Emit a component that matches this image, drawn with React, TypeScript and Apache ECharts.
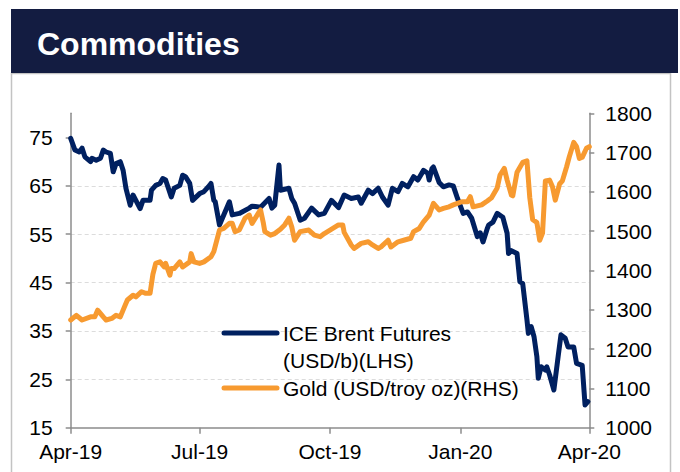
import React, { useEffect, useRef } from 'react';
import * as echarts from 'echarts';

const brentDates = [
  '2019-04-01','2019-04-04','2019-04-07','2019-04-09','2019-04-11','2019-04-15','2019-04-16','2019-04-19','2019-04-22','2019-04-24',
  '2019-04-26','2019-04-29','2019-05-01','2019-05-03','2019-05-06','2019-05-08','2019-05-10','2019-05-13','2019-05-15','2019-05-17',
  '2019-05-20','2019-05-22','2019-05-27','2019-05-28','2019-05-31','2019-06-03','2019-06-05','2019-06-07','2019-06-11','2019-06-13',
  '2019-06-17','2019-06-19','2019-06-21','2019-06-24','2019-06-26','2019-07-01','2019-07-04','2019-07-08','2019-07-09','2019-07-11',
  '2019-07-12','2019-07-15','2019-07-22','2019-07-24','2019-07-29','2019-08-05','2019-08-07','2019-08-13','2019-08-19','2019-08-21',
  '2019-08-23','2019-08-26','2019-08-27','2019-09-02','2019-09-04','2019-09-06','2019-09-10','2019-09-13','2019-09-18','2019-09-23',
  '2019-09-27','2019-10-02','2019-10-07','2019-10-11','2019-10-16','2019-10-21','2019-10-23','2019-10-28','2019-10-31','2019-11-04',
  '2019-11-07','2019-11-11','2019-11-14','2019-11-18','2019-11-21','2019-11-25','2019-11-29','2019-12-02','2019-12-06','2019-12-09',
  '2019-12-10','2019-12-12','2019-12-13','2019-12-17','2019-12-20','2019-12-24','2019-12-27','2019-12-30','2020-01-03','2020-01-06',
  '2020-01-09','2020-01-13','2020-01-15','2020-01-17','2020-01-20','2020-01-21','2020-01-24','2020-01-27','2020-01-31','2020-02-03',
  '2020-02-04','2020-02-06','2020-02-10','2020-02-12','2020-02-14','2020-02-17','2020-02-18','2020-02-20','2020-02-22','2020-02-24',
  '2020-02-25','2020-02-27','2020-03-01','2020-03-02','2020-03-04','2020-03-07','2020-03-10','2020-03-12','2020-03-15','2020-03-17',
  '2020-03-21','2020-03-23','2020-03-27','2020-03-29','2020-03-31'
];
const brentValues = [
  74.8,72.4,72.0,72.8,71.0,70.0,70.7,70.3,70.7,72.4,
  72.0,71.7,67.9,69.6,70.0,68.2,64.5,61.0,63.1,62.0,
  60.3,62.0,62.0,64.1,65.1,65.5,66.5,66.2,62.7,64.5,
  65.1,67.2,66.9,65.5,62.0,63.4,63.8,65.1,65.5,62.0,
  61.7,56.9,61.7,59.0,59.3,60.4,60.8,60.6,62.4,60.4,
  61.0,69.3,64.1,64.5,62.4,61.4,57.9,58.3,60.4,59.0,
  59.3,62.0,60.5,63.1,62.4,62.7,61.4,64.1,63.4,64.5,
  62.7,61.0,64.5,63.8,65.5,64.8,66.9,66.2,68.2,67.6,
  66.2,68.6,68.9,65.7,64.8,65.2,65.0,62.4,59.3,59.6,
  58.3,54.5,55.3,53.4,56.2,56.9,57.5,59.3,58.5,55.2,
  51.0,51.6,51.0,45.2,44.8,37.3,34.5,35.9,33.8,29.7,
  25.2,27.6,26.9,27.6,25.9,22.8,29.7,34.2,33.5,31.7,
  31.7,28.3,27.9,19.7,20.4
];

const goldDates = [
  '2019-04-01','2019-04-05','2019-04-09','2019-04-15','2019-04-18','2019-04-20','2019-04-24','2019-04-26','2019-04-30','2019-05-03',
  '2019-05-06','2019-05-09','2019-05-11','2019-05-15','2019-05-17','2019-05-21','2019-05-24','2019-05-27','2019-05-29','2019-05-31',
  '2019-06-03','2019-06-06','2019-06-07','2019-06-10','2019-06-11','2019-06-13','2019-06-17','2019-06-19','2019-06-24','2019-06-25',
  '2019-06-27','2019-07-01','2019-07-04','2019-07-09','2019-07-11','2019-07-15','2019-07-18','2019-07-22','2019-07-24','2019-07-26',
  '2019-07-29','2019-08-02','2019-08-05','2019-08-07','2019-08-12','2019-08-13','2019-08-15','2019-08-16','2019-08-20','2019-08-23',
  '2019-08-27','2019-08-30','2019-09-02','2019-09-04','2019-09-06','2019-09-10','2019-09-16','2019-09-20','2019-09-24','2019-09-27',
  '2019-10-03','2019-10-07','2019-10-10','2019-10-11','2019-10-16','2019-10-18','2019-10-23','2019-10-28','2019-10-31','2019-11-04',
  '2019-11-06','2019-11-11','2019-11-13','2019-11-18','2019-11-22','2019-11-27','2019-11-29','2019-12-03','2019-12-06','2019-12-10',
  '2019-12-13','2019-12-17','2019-12-20','2019-12-24','2019-12-27','2020-01-02','2020-01-06','2020-01-08','2020-01-10','2020-01-16',
  '2020-01-20','2020-01-23','2020-01-27','2020-01-29','2020-02-01','2020-02-03','2020-02-06','2020-02-07','2020-02-10','2020-02-14',
  '2020-02-17','2020-02-19','2020-02-21','2020-02-24','2020-02-26','2020-02-28','2020-03-01','2020-03-04','2020-03-06','2020-03-08',
  '2020-03-11','2020-03-13','2020-03-16','2020-03-18','2020-03-21','2020-03-23','2020-03-25','2020-03-27','2020-03-30','2020-04-01'
];
const goldValues = [
  1274,1286,1274,1282,1282,1299,1282,1274,1278,1286,
  1282,1308,1325,1337,1333,1346,1342,1342,1390,1418,
  1422,1409,1418,1388,1405,1405,1422,1409,1422,1443,
  1422,1418,1422,1435,1448,1503,1507,1520,1520,1499,
  1503,1533,1541,1520,1549,1554,1520,1499,1490,1494,
  1505,1516,1533,1511,1477,1499,1503,1490,1486,1494,
  1507,1516,1516,1497,1465,1456,1469,1473,1465,1456,
  1460,1477,1460,1473,1477,1482,1499,1507,1524,1541,
  1571,1554,1558,1562,1567,1575,1575,1588,1562,1567,
  1577,1585,1610,1643,1660,1630,1592,1590,1650,1675,
  1679,1585,1530,1522,1477,1495,1628,1630,1613,1579,
  1620,1628,1664,1691,1726,1715,1685,1688,1711,1715
];

const xTickDates = ['2019-04-01', '2019-07-01', '2019-10-01', '2020-01-01', '2020-04-01'];
const leftTicks = [15, 25, 35, 45, 55, 65, 75];
const MONTHS = ['Jan', 'Feb', 'Mar', 'Apr', 'May', 'Jun', 'Jul', 'Aug', 'Sep', 'Oct', 'Nov', 'Dec'];

const FONT = 'Liberation Sans, Arial, sans-serif';
const NAVY = '#002060';
const ORANGE = '#F79A30';
const AXIS_GRAY = '#8c8c8c';
const LABEL_SIZE = 21;

function toTs(s: string): number {
  const [y, m, d] = s.split('-').map(Number);
  return new Date(y, m - 1, d).getTime();
}

export default function App() {
  const ref = useRef<HTMLDivElement>(null);

  useEffect(() => {
    if (!ref.current) return;
    const chart = echarts.init(ref.current, null, { renderer: 'svg' });
    const xTicks = xTickDates.map(toTs);
    chart.setOption({
      animation: false,
      backgroundColor: '#ffffff',
      textStyle: { fontFamily: FONT },
      grid: { left: 70.7, right: 90.7, top: 113.3, bottom: 44.3, containLabel: false },
      xAxis: {
        type: 'value',
        min: xTicks[0],
        max: xTicks[xTicks.length - 1],
        axisLine: { lineStyle: { color: AXIS_GRAY, width: 1.5 } },
        axisTick: { show: true, length: 6, customValues: xTicks, lineStyle: { color: AXIS_GRAY, width: 1.5 } },
        axisLabel: {
          customValues: xTicks,
          color: '#000',
          fontSize: LABEL_SIZE,
          fontFamily: FONT,
          margin: 13,
          formatter: (v: number) => {
            const d = new Date(v);
            return MONTHS[d.getMonth()] + '-' + String(d.getFullYear()).slice(2);
          },
        },
        splitLine: { show: false },
      },
      yAxis: [
        {
          type: 'value',
          position: 'left',
          min: 15,
          max: 80,
          interval: 10,
          axisLine: { show: true, lineStyle: { color: AXIS_GRAY, width: 1.5 } },
          axisTick: { show: true, length: 5, customValues: leftTicks, lineStyle: { color: AXIS_GRAY, width: 1.5 } },
          axisLabel: {
            customValues: leftTicks,
            color: '#000',
            fontSize: LABEL_SIZE,
            fontFamily: FONT,
            margin: 18,
            formatter: (v: number) => String(v),
          },
          splitLine: {
            show: true,
            showMinLine: false,
            showMaxLine: false,
            lineStyle: { color: '#dcdcdc', type: [4, 3], width: 1 },
          },
        },
        {
          type: 'value',
          position: 'right',
          min: 1000,
          max: 1800,
          interval: 100,
          axisLine: { show: true, lineStyle: { color: AXIS_GRAY, width: 1.5 } },
          axisTick: { show: true, length: 5, lineStyle: { color: AXIS_GRAY, width: 1.5 } },
          axisLabel: {
            color: '#000',
            fontSize: LABEL_SIZE,
            fontFamily: FONT,
            margin: 16,
            formatter: (v: number) => String(v),
          },
          splitLine: { show: false },
        },
      ],
      series: [
        {
          name: 'ICE Brent Futures (USD/b)(LHS)',
          type: 'line',
          yAxisIndex: 0,
          showSymbol: false,
          data: brentDates.map((d, i) => [toTs(d), brentValues[i]]),
          lineStyle: { color: NAVY, width: 5, cap: 'round', join: 'round' },
          itemStyle: { color: NAVY },
          z: 3,
        },
        {
          name: 'Gold (USD/troy oz)(RHS)',
          type: 'line',
          yAxisIndex: 1,
          showSymbol: false,
          data: goldDates.map((d, i) => [toTs(d), goldValues[i]]),
          lineStyle: { color: ORANGE, width: 5, cap: 'round', join: 'round' },
          itemStyle: { color: ORANGE },
          z: 4,
        },
      ],
      graphic: [
        {
          type: 'rect',
          shape: { x: 11.5, y: 73.5, width: 659, height: 420 },
          style: { fill: 'none', stroke: '#c3c3c3', lineWidth: 1.5 },
          z: 0,
          silent: true,
        },
        {
          type: 'rect',
          shape: { x: 11, y: 9, width: 667, height: 64 },
          style: { fill: '#131c41' },
          z: 1,
          silent: true,
        },
        {
          type: 'text',
          x: 37,
          y: 44,
          style: {
            text: 'Commodities',
            fill: '#ffffff',
            fontSize: 32,
            fontWeight: 'bold',
            fontFamily: FONT,
            verticalAlign: 'middle',
            align: 'left',
          },
          z: 2,
          silent: true,
        },
        {
          type: 'line',
          shape: { x1: 224, y1: 333, x2: 277, y2: 333 },
          style: { stroke: NAVY, lineWidth: 5, lineCap: 'round' },
          z: 10,
        },
        {
          type: 'text',
          x: 283,
          y: 346.5,
          style: {
            text: 'ICE Brent Futures\n(USD/b)(LHS)',
            fill: '#000',
            fontSize: LABEL_SIZE,
            lineHeight: 27,
            fontFamily: FONT,
            verticalAlign: 'middle',
            align: 'left',
          },
          z: 10,
        },
        {
          type: 'line',
          shape: { x1: 224, y1: 388, x2: 277, y2: 388 },
          style: { stroke: ORANGE, lineWidth: 5, lineCap: 'round' },
          z: 10,
        },
        {
          type: 'text',
          x: 283,
          y: 388,
          style: {
            text: 'Gold (USD/troy oz)(RHS)',
            fill: '#000',
            fontSize: LABEL_SIZE,
            fontFamily: FONT,
            verticalAlign: 'middle',
            align: 'left',
          },
          z: 10,
        },
      ],
    });
    return () => chart.dispose();
  }, []);

  return (
    <div
      ref={ref}
      style={{ position: 'fixed', left: 0, top: 0, width: 680, height: 472, background: '#fff' }}
    />
  );
}
